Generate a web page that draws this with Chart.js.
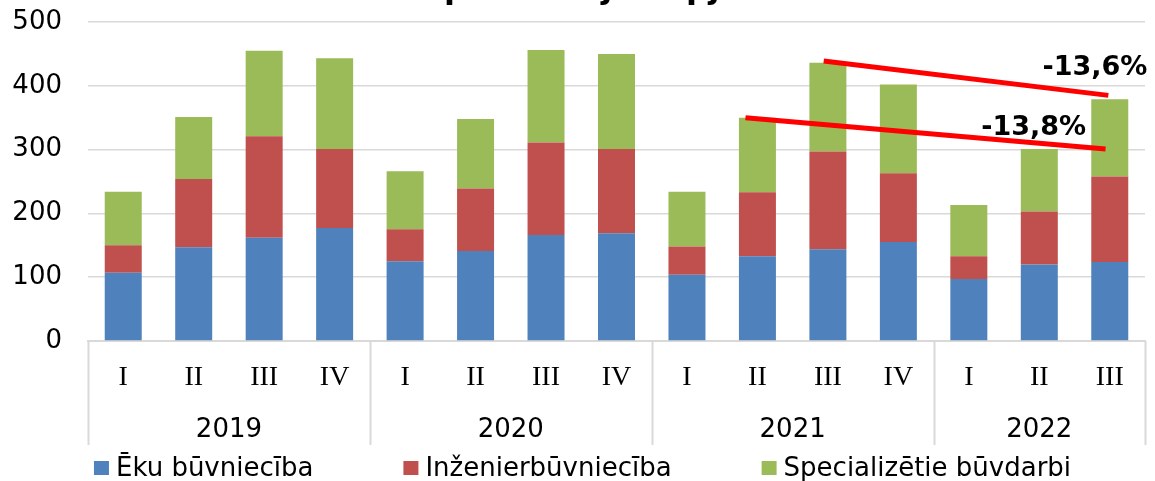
<!DOCTYPE html>
<html>
<head>
<meta charset="utf-8">
<script src="https://cdn.jsdelivr.net/npm/chart.js@4/dist/chart.umd.min.js"></script>
<style>
  html, body { margin: 0; padding: 0; background: #fff; }
  canvas { display: block; }
</style>
</head>
<body>
<canvas id="chart" width="1155" height="481"></canvas>
<script>
// chart data
const quarters = ["I", "II", "III", "IV", "I", "II", "III", "IV", "I", "II", "III", "IV", "I", "II", "III"];
const years = ["2019", "2020", "2021", "2022"];
const quartersPerYear = [4, 4, 4, 3];

const ekas = [107, 147, 162, 177, 125, 141, 166, 169, 104, 133, 144, 155, 97, 120, 124];
const inzenier = [43, 107, 159, 124, 50, 98, 145, 132, 44, 100, 153, 108, 36, 83, 134];
const special = [84, 97, 134, 142, 91, 109, 145, 149, 86, 117, 139, 139, 80, 98, 121];

const seriesNames = ["Ēku būvniecība", "Inženierbūvniecība", "Specializētie būvdarbi"];
const seriesColors = ["#4F81BD", "#C0504D", "#9BBB59"];

const yTicks = [0, 100, 200, 300, 400, 500];

// red trend lines: [category position, value] start -> end
const trendLines = [
  { from: [8.83, 350], to: [13.94, 301] },
  { from: [9.94, 439], to: [13.98, 385] },
];
const trendLabels = [
  { text: "-13,8%", at: [12.92, 323] },
  { text: "-13,6%", at: [13.79, 417] },
];

const titleText = "Būvniecības produkcijas apjoms";

const gridColor = "#d9d9d9";

// draws year row, group separators, trend lines, legend, title
const extrasPlugin = {
  id: "extras",
  afterDraw(chart) {
    const { ctx, chartArea } = chart;
    const x = chart.scales.x;
    const y = chart.scales.y;
    ctx.save();

    // group separators below the axis
    ctx.strokeStyle = gridColor;
    ctx.lineWidth = 2;
    let start = 0;
    const bounds = [0];
    quartersPerYear.forEach((n) => { start += n; bounds.push(start); });
    bounds.forEach((b) => {
      const px = Math.round(x.getPixelForValue(b - 0.5)) + 0.5;
      ctx.beginPath();
      ctx.moveTo(px, chartArea.bottom);
      ctx.lineTo(px, 445);
      ctx.stroke();
    });

    // year labels
    ctx.fillStyle = "#000";
    ctx.font = '26px "DejaVu Sans"';
    ctx.textAlign = "center";
    ctx.textBaseline = "alphabetic";
    start = 0;
    years.forEach((yr, i) => {
      const mid = start + (quartersPerYear[i] - 1) / 2;
      ctx.fillText(yr, x.getPixelForValue(mid), 437);
      start += quartersPerYear[i];
    });

    // trend lines
    ctx.strokeStyle = "#FF0000";
    ctx.lineWidth = 5;
    ctx.lineCap = "butt";
    trendLines.forEach((t) => {
      ctx.beginPath();
      ctx.moveTo(x.getPixelForValue(t.from[0]), y.getPixelForValue(t.from[1]));
      ctx.lineTo(x.getPixelForValue(t.to[0]), y.getPixelForValue(t.to[1]));
      ctx.stroke();
    });
    ctx.font = 'bold 27px "DejaVu Sans"';
    ctx.fillStyle = "#000";
    trendLabels.forEach((l) => {
      ctx.fillText(l.text, x.getPixelForValue(l.at[0]), y.getPixelForValue(l.at[1]));
    });

    // legend
    ctx.font = '26px "DejaVu Sans"';
    ctx.textAlign = "left";
    ctx.textBaseline = "middle";
    const box = 15, gapBox = 7, gapItem = 90;
    const widths = seriesNames.map((s) => box + gapBox + ctx.measureText(s).width);
    const total = widths.reduce((a, b) => a + b, 0) + gapItem * (seriesNames.length - 1);
    let lx = chart.width / 2 + 5 - total / 2;
    const ly = 468;
    seriesNames.forEach((s, i) => {
      ctx.fillStyle = seriesColors[i];
      ctx.fillRect(lx, ly - 7, box, 14);
      ctx.fillStyle = "#000";
      ctx.fillText(s, lx + box + gapBox, ly + 1);
      lx += widths[i] + gapItem;
    });

    // title (mostly above the visible area)
    ctx.font = 'bold 32px "DejaVu Sans"';
    ctx.textBaseline = "alphabetic";
    const prefix = "Būvniecības ";
    ctx.fillText(titleText, 444 - ctx.measureText(prefix).width, -2);

    ctx.restore();
  },
};

new Chart(document.getElementById("chart"), {
  type: "bar",
  data: {
    labels: quarters,
    datasets: [ekas, inzenier, special].map((d, i) => ({
      label: seriesNames[i],
      data: d,
      backgroundColor: seriesColors[i],
      borderWidth: 0,
      barPercentage: 0.525,
      categoryPercentage: 1,
    })),
  },
  options: {
    responsive: false,
    animation: false,
    layout: { padding: { top: 22, right: 10, bottom: 0, left: 0 } },
    plugins: {
      legend: { display: false },
      tooltip: { enabled: false },
    },
    scales: {
      x: {
        stacked: true,
        grid: { display: false },
        border: { color: gridColor, width: 2 },
        ticks: {
          font: { family: "Liberation Serif", size: 28 },
          color: "#000",
          padding: 12,
          maxRotation: 0,
          autoSkip: false,
        },
        afterFit: (s) => { s.height = 140; },
      },
      y: {
        stacked: true,
        min: yTicks[0],
        max: yTicks[yTicks.length - 1],
        afterBuildTicks: (s) => { s.ticks = yTicks.map((v) => ({ value: v })); },
        grid: { color: gridColor, lineWidth: 1.5, drawTicks: false },
        border: { display: false },
        ticks: {
          font: { family: "DejaVu Sans", size: 26 },
          color: "#000",
          padding: 26,
        },
        afterFit: (s) => {
          s.width = 88;
          s.paddingTop = 0;
          s.paddingBottom = 0;
        },
      },
    },
  },
  plugins: [extrasPlugin],
});
</script>
</body>
</html>
